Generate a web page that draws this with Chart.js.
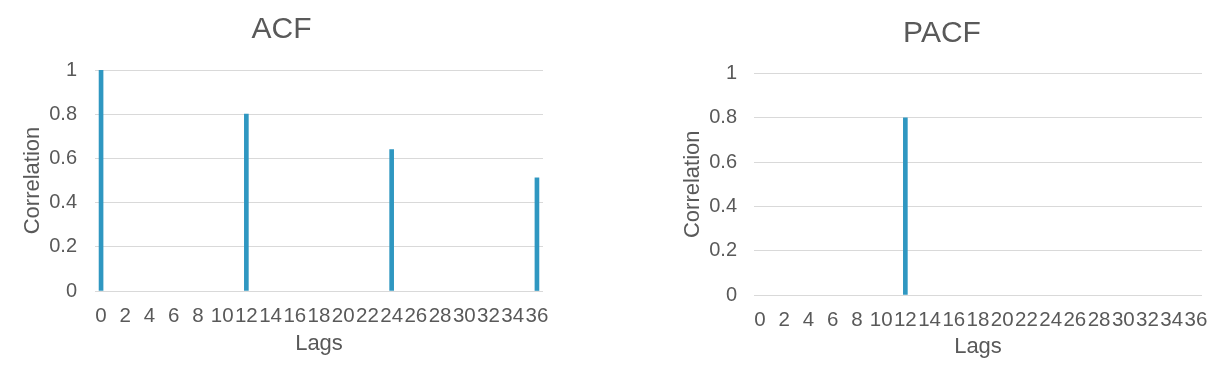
<!DOCTYPE html>
<html>
<head>
<meta charset="utf-8">
<script src="https://cdn.jsdelivr.net/npm/chart.js@4/dist/chart.umd.min.js"></script>
<style>
  html, body { margin: 0; padding: 0; background: #ffffff; }
  body { width: 1224px; height: 380px; position: relative; overflow: hidden; }
  .box { position: absolute; top: 0; height: 380px; }
  #acfBox { left: 0; width: 600px; }
  #pacfBox { left: 620px; width: 604px; }
</style>
</head>
<body>
<div class="box" id="acfBox"><canvas id="acf"></canvas></div>
<div class="box" id="pacfBox"><canvas id="pacf"></canvas></div>
<script>
// ---- data ----
const lags = [0,1,2,3,4,5,6,7,8,9,10,11,12,13,14,15,16,17,18,19,20,21,22,23,24,25,26,27,28,29,30,31,32,33,34,35,36];
const acfValues = [1,0,0,0,0,0,0,0,0,0,0,0,0.8,0,0,0,0,0,0,0,0,0,0,0,0.64,0,0,0,0,0,0,0,0,0,0,0,0.512];
const pacfValues = [0,0,0,0,0,0,0,0,0,0,0,0,0.8,0,0,0,0,0,0,0,0,0,0,0,0,0,0,0,0,0,0,0,0,0,0,0,0];
const xTickLabels = ["0","2","4","6","8","10","12","14","16","18","20","22","24","26","28","30","32","34","36"];
const yTickValues = [0, 0.2, 0.4, 0.6, 0.8, 1];
const chartTitles = ["ACF", "PACF"];
const xAxisTitle = "Lags";
const yAxisTitle = "Correlation";

// ---- style ----
const FONT = "'Liberation Sans', Arial, sans-serif";
const TEXT = "#595959";
const GRID = "#d9d9d9";
const BAR = "#2f97c1";

function makeChart(id, title, values, L) {
  return new Chart(document.getElementById(id), {
    type: 'bar',
    data: {
      labels: lags.map(String),
      datasets: [{
        data: values,
        backgroundColor: (ctx) => (ctx.raw === 0 ? 'rgba(0,0,0,0)' : BAR),
        borderWidth: 0, barThickness: 4
      }]
    },
    options: {
      responsive: true,
      maintainAspectRatio: false,
      animation: false,
      layout: { padding: { left: L.padLeft, right: L.padRight, top: 0, bottom: L.padBottom } },
      plugins: {
        legend: { display: false },
        tooltip: { enabled: false },
        title: {
          display: true, text: title, color: TEXT,
          font: { family: FONT, size: 30, weight: 'normal', lineHeight: 1.2 },
          padding: { top: L.titleTop, bottom: L.titleBottom }
        }
      },
      scales: {
        x: {
          offset: true,
          afterFit: function (s) { s.height = L.xHeight; },
          grid: { display: false, drawTicks: false },
          border: { display: false },
          ticks: {
            color: TEXT, autoSkip: false, maxRotation: 0, minRotation: 0, padding: 13,
            font: { family: FONT, size: 20.5 },
            callback: function (v, i) { const s = String(lags[i]); return xTickLabels.includes(s) ? s : ''; }
          },
          title: { display: true, text: xAxisTitle, color: TEXT, font: { family: FONT, size: 22 },
                   padding: { top: 2, bottom: 3 } }
        },
        y: {
          min: 0, max: 1,
          afterFit: function (s) { s.width = L.yWidth; },
          afterBuildTicks: function (s) { s.ticks = yTickValues.map(v => ({ value: v })); },
          grid: { color: GRID, lineWidth: 1, drawTicks: false },
          border: { display: false },
          ticks: { color: TEXT, padding: L.yTickPad, font: { family: FONT, size: 20 },
                   callback: (v) => String(Math.round(v * 10) / 10) },
          title: { display: true, text: yAxisTitle, color: TEXT, font: { family: FONT, size: 22 }, padding: { top: 4, bottom: 4 } }
        },
        yRight: {
          position: 'right',
          display: true,
          afterFit: function (s) { s.width = L.rightGap; },
          grid: { display: false, drawTicks: false },
          border: { display: false },
          ticks: { display: false }
        }
      }
    }
  });
}

makeChart('acf', chartTitles[0], acfValues,
  { padLeft: 16, padRight: 53, rightGap: 4, padBottom: 20.3, titleTop: 12, titleBottom: 22, yWidth: 79, yTickPad: 18, xHeight: 68.7 });
makeChart('pacf', chartTitles[1], pacfValues,
  { padLeft: 56, padRight: 16, rightGap: 6, padBottom: 16.8, titleTop: 16, titleBottom: 21.5, yWidth: 78, yTickPad: 17, xHeight: 68.2 });
</script>
</body>
</html>
